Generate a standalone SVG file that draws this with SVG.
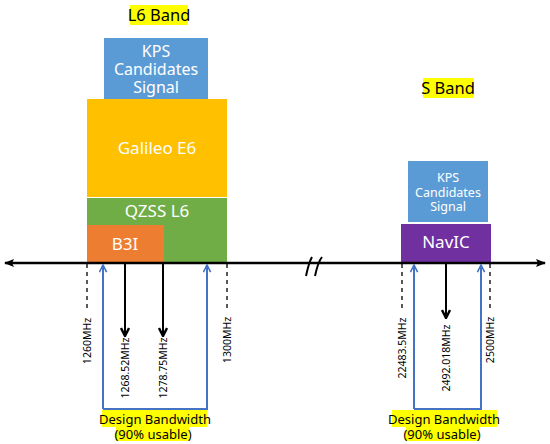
<svg xmlns="http://www.w3.org/2000/svg" width="550" height="444" viewBox="0 0 550 444">
<defs>
<style>
text{font-family:"Noto Sans","Open Sans",sans-serif}
.w{fill:#fff;text-anchor:middle}
.lbl{fill:#000;font-size:16.5px;text-anchor:middle}
.f{font-size:10.5px;fill:#000;text-anchor:middle}
.dash{stroke:#000;stroke-width:1.3;stroke-dasharray:4,4;fill:none}
.blk{stroke:#000;stroke-width:2;fill:none}
.blu{stroke:#4472C4;stroke-width:2;fill:none}
.hl{fill:#FFFF00}
.bw{fill:#000;font-size:13px;text-anchor:middle}
</style>
<marker id="ab" viewBox="0 0 10 10" refX="9" refY="5" markerWidth="10" markerHeight="10" orient="auto" markerUnits="userSpaceOnUse">
<path d="M1,1 L9,5 L1,9" fill="none" stroke="#000" stroke-width="2.4"/>
</marker>
<marker id="au" viewBox="0 0 10 10" refX="9" refY="5" markerWidth="9" markerHeight="9" orient="auto" markerUnits="userSpaceOnUse">
<path d="M1,1 L9,5 L1,9" fill="none" stroke="#4472C4" stroke-width="1.8"/>
</marker>
<marker id="ax" viewBox="0 0 10 10" refX="9" refY="5" markerWidth="10" markerHeight="10" orient="auto" markerUnits="userSpaceOnUse">
<path d="M0,1 L10,5 L0,9 L2,5 Z" fill="#000"/>
</marker>
</defs>

<g id="l6-band-label">
<rect class="hl" x="130" y="5" width="58" height="20"/>
<text class="lbl" x="159" y="21">L6 Band</text>
</g>
<g id="s-band-label">
<rect class="hl" x="423" y="78" width="51" height="20"/>
<text class="lbl" x="448" y="94">S Band</text>
</g>

<g id="kps-l6">
<rect x="104" y="38" width="104" height="61" fill="#5B9BD5"/>
<text class="w" font-size="16" x="156" y="57">KPS</text>
<text class="w" font-size="16" x="156" y="75">Candidates</text>
<text class="w" font-size="16" x="156" y="93">Signal</text>
</g>
<g id="galileo-e6">
<rect x="87" y="99" width="140" height="98" fill="#FFC000"/>
<text class="w" font-size="17" x="157" y="154">Galileo E6</text>
</g>
<g id="qzss-l6">
<rect x="87" y="198" width="140" height="65" fill="#70AD47"/>
<text class="w" font-size="17" x="157" y="217">QZSS L6</text>
</g>
<g id="b3i">
<rect x="87" y="225" width="77" height="38" fill="#ED7D31"/>
<text class="w" font-size="17" x="125" y="250">B3I</text>
</g>
<g id="kps-s">
<rect x="408" y="161" width="80" height="61" fill="#5B9BD5"/>
<text class="w" font-size="12.5" x="448" y="182">KPS</text>
<text class="w" font-size="12.5" x="448" y="197">Candidates</text>
<text class="w" font-size="12.5" x="448" y="211">Signal</text>
</g>
<g id="navic">
<rect x="401" y="224" width="90" height="39" fill="#7030A0"/>
<text class="w" font-size="17" x="446" y="248">NavIC</text>
</g>

<g id="connectors">
<line x1="275" y1="263" x2="545" y2="263" stroke="#000" stroke-width="2.5" marker-end="url(#ax)"/>
<line x1="275" y1="263" x2="5" y2="263" stroke="#000" stroke-width="2.5" marker-end="url(#ax)"/>
<path d="M306,276 Q309,262 312,257 M315,276 Q318,262 322,257" stroke="#000" stroke-width="2" fill="none"/>
<line class="dash" x1="87" y1="264" x2="87" y2="312"/>
<line class="dash" x1="227" y1="264" x2="227" y2="312"/>
<line class="dash" x1="402" y1="264" x2="402" y2="311"/>
<line class="dash" x1="490" y1="264" x2="490" y2="311"/>
<line class="blk" x1="125" y1="264" x2="125" y2="336" marker-end="url(#ab)"/>
<line class="blk" x1="163" y1="264" x2="163" y2="336" marker-end="url(#ab)"/>
<line class="blk" x1="446" y1="264" x2="446" y2="318" marker-end="url(#ab)"/>
<path class="blu" d="M103,409 L103,265" marker-end="url(#au)"/>
<path class="blu" d="M103,409 L207,409 L207,265" marker-end="url(#au)"/>
<path class="blu" d="M414,409 L414,265" marker-end="url(#au)"/>
<path class="blu" d="M414,409 L481,409 L481,265" marker-end="url(#au)"/>
</g>

<g id="freq-labels">
<text class="f" transform="translate(91,341) rotate(-90)">1260MHz</text>
<text class="f" transform="translate(129,368) rotate(-90)">1268.52MHz</text>
<text class="f" transform="translate(167,368) rotate(-90)">1278.75MHz</text>
<text class="f" transform="translate(231,340) rotate(-90)">1300MHz</text>
<text class="f" transform="translate(406,348) rotate(-90)">22483.5MHz</text>
<text class="f" transform="translate(450,358) rotate(-90)">2492.018MHz</text>
<text class="f" transform="translate(494,340) rotate(-90)">2500MHz</text>
</g>

<g id="bw-l6">
<rect class="hl" x="102" y="410" width="105" height="17"/>
<rect class="hl" x="116" y="427" width="73" height="14"/>
<text class="bw" x="155" y="424">Design Bandwidth</text>
<text class="bw" x="153" y="439">(90% usable)</text>
</g>
<g id="bw-s">
<rect class="hl" x="392" y="410" width="105" height="17"/>
<rect class="hl" x="406" y="427" width="73" height="14"/>
<text class="bw" x="444" y="424">Design Bandwidth</text>
<text class="bw" x="442" y="439">(90% usable)</text>
</g>
</svg>
